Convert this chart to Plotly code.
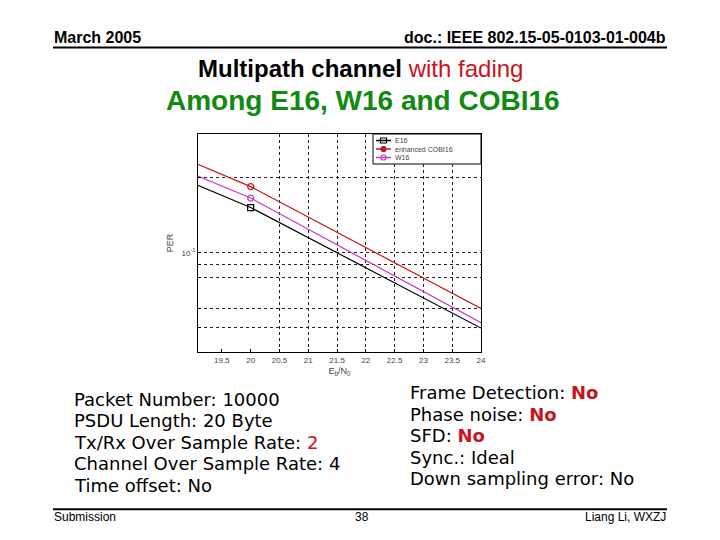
import plotly.graph_objects as go

# ---- data ----
ebno = [19, 20, 24]
per_e16 = [0.190, 0.152, 0.0499]
per_cobi16 = [0.231, 0.1845, 0.0598]
per_w16 = [0.207, 0.166, 0.0524]
marker_x = [20]
marker_e16 = [0.152]
marker_cobi16 = [0.1845]
marker_w16 = [0.166]
series_names = ["E16", "enhanced COBI16", "W16"]
x_ticks = [19.5, 20, 20.5, 21, 21.5, 22, 22.5, 23, 23.5, 24]
x_tick_labels = ["19.5", "20", "20.5", "21", "21.5", "22", "22.5", "23", "23.5", "24"]
x_grid = [20.5, 21, 21.5, 22, 22.5, 23, 23.5]
y_ticks = [0.1]
y_tick_labels = ["10<sup>-1</sup>"]
y_grid = [0.05, 0.06, 0.08, 0.09, 0.1, 0.2, 0.3]

# ---- layout geometry (pixels in the 720x540 page; page body has an 8px margin) ----
OFF = 8
W, H = 720 - 2 * OFF, 540 - 2 * OFF
L, R, T, B = 198, 481, 134, 352


def px(x):
    return (x - L) / (R - L)


def py(y):
    return (B - y) / (B - T)


colors = ["#000000", "#c8141e", "#cc33cc"]
symbols = ["square-open", "circle-open", "circle-open"]
lines_y = [per_e16, per_cobi16, per_w16]
marks_y = [marker_e16, marker_cobi16, marker_w16]
axes_of = [("x2", "y"), ("x", "y"), ("x", "y2")]

fig = go.Figure()
for i in range(3):
    fig.add_trace(go.Scatter(
        x=ebno, y=lines_y[i], mode="lines",
        line=dict(color=colors[i], width=1.2),
        showlegend=False, xaxis=axes_of[i][0], yaxis=axes_of[i][1],
        hoverinfo="skip"))
for i in range(3):
    fig.add_trace(go.Scatter(
        x=marker_x, y=marks_y[i], mode="markers", name=series_names[i],
        showlegend=False,
        marker=dict(symbol=symbols[i], size=6, color=colors[i],
                    line=dict(color=colors[i], width=1.2))))

xr = [19.085, 24]
yr = [-1.39794, -0.522879]
tickfont = dict(family="Liberation Sans, Arial", size=8, color="#444")
grid = dict(showgrid=True, gridcolor="#222", griddash="dot", gridwidth=1)
fig.update_layout(
    width=W, height=H,
    margin=dict(l=L - OFF, r=W + OFF - R, t=T - OFF, b=H + OFF - B),
    paper_bgcolor="white", plot_bgcolor="white",
    font=dict(family="Liberation Sans, Arial", color="black"),
    xaxis=dict(range=xr, tickvals=x_ticks, ticktext=x_tick_labels,
               showgrid=False, zeroline=False, showline=True, linecolor="black",
               linewidth=1, mirror=True, ticks="inside", ticklen=3,
               tickcolor="black", tickfont=tickfont,
               title=dict(text="E<sub>b</sub>/N<sub>0</sub>", font=dict(size=9, color="#444"),
                          standoff=4)),
    xaxis2=dict(range=xr, overlaying="x", anchor="y", side="bottom",
                tickvals=x_grid, showticklabels=False, ticks="",
                zeroline=False, showline=False, **grid),
    yaxis=dict(type="log", range=yr, tickvals=y_ticks, ticktext=y_tick_labels,
               showgrid=False, zeroline=False, showline=True,
               linecolor="black", linewidth=1, mirror=True, ticks="inside",
               ticklen=3, tickcolor="black", tickfont=tickfont,
               title=dict(text="PER", font=dict(size=9, color="#444"), standoff=6)),
    yaxis2=dict(type="log", range=yr, overlaying="y", anchor="x", side="left",
                tickvals=y_grid, showticklabels=False, ticks="inside", ticklen=3,
                tickcolor="black", zeroline=False, showline=False, **grid),
    showlegend=False,
)

# ---- legend box (drawn as decoration, top-right of the plot) ----
LG_L, LG_R, LG_T, LG_B = 373, 481, 134, 164
fig.add_shape(type="rect", xref="paper", yref="paper",
              x0=px(LG_L), x1=px(LG_R), y0=py(LG_B), y1=py(LG_T),
              line=dict(color="black", width=1), fillcolor="white", layer="above")
entry_y = [140.5, 149, 157.5]
for i in range(3):
    yy = py(entry_y[i])
    fig.add_shape(type="line", xref="paper", yref="paper",
                  x0=px(376), x1=px(391), y0=yy, y1=yy,
                  line=dict(color=colors[i], width=1.5), layer="above")
    if i == 0:
        fig.add_shape(type="rect", xref="paper", yref="paper",
                      x0=px(380.5), x1=px(386.5), y0=py(entry_y[i] + 2.5),
                      y1=py(entry_y[i] - 2.5),
                      line=dict(color=colors[i], width=1.2), layer="above")
    else:
        fig.add_shape(type="circle", xref="paper", yref="paper",
                      x0=px(381), x1=px(386), y0=py(entry_y[i] + 2.5),
                      y1=py(entry_y[i] - 2.5),
                      line=dict(color=colors[i], width=1.2),
                      fillcolor=colors[i] if i == 1 else None, layer="above")
    fig.add_annotation(text=series_names[i], x=px(393), y=yy, xref="paper", yref="paper",
                       xanchor="left", yanchor="middle", showarrow=False,
                       font=dict(family="Liberation Sans, Arial", size=7, color="#444"))

# header / footer rules
for yy in (47.5, 509.3):
    fig.add_shape(type="line", xref="paper", yref="paper",
                  x0=px(53), x1=px(667), y0=py(yy), y1=py(yy),
                  line=dict(color="black", width=2))


def note(text, x, y, size, xanchor="left", family="Liberation Sans, Arial", color="black"):
    fig.add_annotation(text=text, x=px(x), y=py(y), xref="paper", yref="paper",
                       xanchor=xanchor, yanchor="middle", showarrow=False,
                       font=dict(family=family, size=size, color=color))


note("<b>March 2005</b>", 52, 37.5, 16)
note("<b>doc.: IEEE 802.15-05-0103-01-004b</b>", 668, 37.5, 16, xanchor="right")
note("<b>Multipath channel</b> <span style='color:#c8141e'>with fading</span>",
     360, 68, 24, xanchor="center")
note("<b>Among E16, W16 and COBI16</b>", 363, 100, 28, xanchor="center", color="#118a11")

body = "DejaVu Sans, Verdana"
red = "#c8141e"
left_lines = ["Packet Number: 10000", "PSDU Length: 20 Byte",
              "Tx/Rx Over Sample Rate: <span style='color:%s'>2</span>" % red,
              "Channel Over Sample Rate: 4", "Time offset: No"]
left_y = [399, 420.5, 442, 463.5, 485]
for t, yy in zip(left_lines, left_y):
    note(t, 72, yy, 18, family=body)

right_lines = ["Frame Detection: <span style='color:%s'><b>No</b></span>" % red,
               "Phase noise: <span style='color:%s'><b>No</b></span>" % red,
               "SFD: <span style='color:%s'><b>No</b></span>" % red,
               "Sync.: Ideal", "Down sampling error: No"]
right_y = [392.5, 414, 435.5, 457, 478.5]
for t, yy in zip(right_lines, right_y):
    note(t, 408, yy, 18, family=body)

note("Submission", 52, 517, 12)
note("38", 362, 517, 12, xanchor="center")
note("Liang Li, WXZJ", 668, 517, 12, xanchor="right")

fig.write_html("out.html")
